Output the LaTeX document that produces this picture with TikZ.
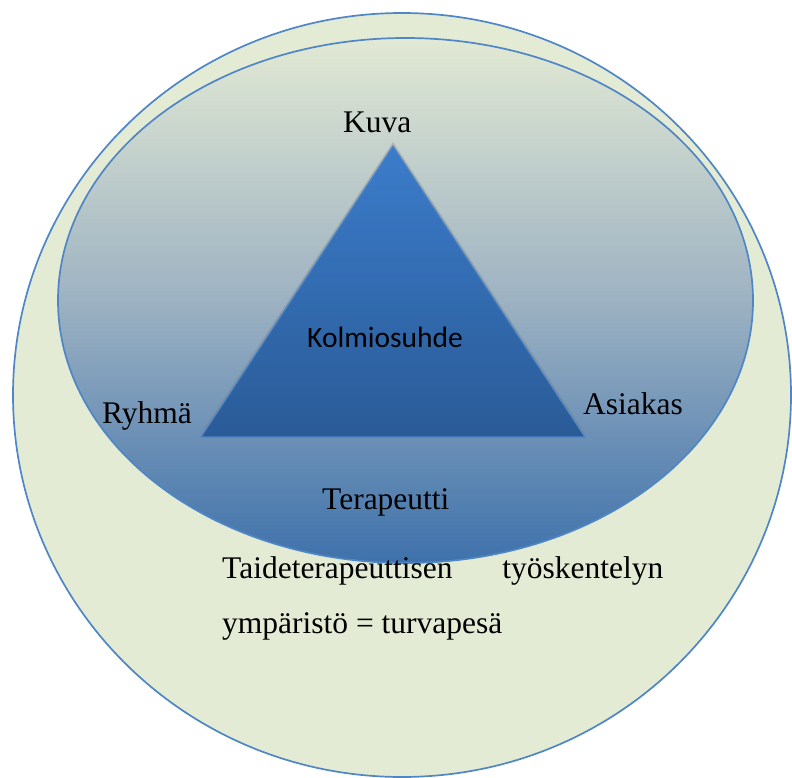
\documentclass[tikz,border=0pt]{standalone}
\usepackage{fontspec}
\setmainfont{Liberation Serif}
\newfontfamily\calibrifont{Carlito}
\usepackage{tikz}
\usetikzlibrary{shadows,positioning}
\definecolor{rimblue}{HTML}{4F86C6}
\definecolor{nestgreen}{HTML}{E4EBD5}
\definecolor{ovaltop}{HTML}{E2E9D4}
\definecolor{ovalmid}{HTML}{9DB2C2}
\definecolor{ovalbot}{HTML}{3E71AB}
\definecolor{tritop}{HTML}{3B7CCA}
\definecolor{tribot}{HTML}{2A5B97}
\def\LabelSize{\fontsize{31.5}{55}\selectfont}

\begin{document}
\begin{tikzpicture}[x=1pt,y=-1pt,
    rim/.style={draw=rimblue,line width=1.7pt},
    label/.style={anchor=base west,inner sep=0pt,font=\LabelSize}]
    \useasboundingbox (0,0) rectangle (792,778);
    % turvapesa
    \path[rim,fill=nestgreen] (402,395) ellipse [x radius=389,y radius=382];
    % soikio
    \path[rim,top color=ovaltop,bottom color=ovalbot,middle color=ovalmid]
        (405.5,300.5) ellipse [x radius=347.5,y radius=262.5];
    % kolmio
    \coordinate (kuva) at (393,146);
    \coordinate (ryhma) at (201,437);
    \coordinate (asiakas) at (585,437);
    \path[draw=rimblue,line width=1.2pt,top color=tritop,bottom color=tribot,
        drop shadow={shadow xshift=0pt,shadow yshift=4pt,opacity=0.35}]
        (kuva) -- (asiakas) -- (ryhma) -- cycle;
    %
    \node[label] (tkuva) at (343,133) {Kuva};
    \node[label] (tryhma) at (102,423) {Ryhmä};
    \node[label] (tasiakas) at (583,414) {Asiakas};
    \node[label] (tterapeutti) at (322,509) {Terapeutti};
    \node[anchor=base west,inner sep=0pt,font=\calibrifont\fontsize{29.5}{34}\selectfont]
        (tkolmio) at (307,347) {Kolmiosuhde};
    \node[label,text width=441pt,align=justify] (tymparisto) at (222,578)
        {Taideterapeuttisen työskentelyn ympäristö = turvapesä};
\end{tikzpicture}
\end{document}
